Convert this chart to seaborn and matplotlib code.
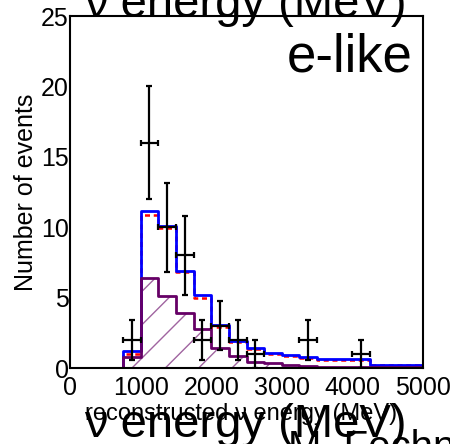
import numpy as np
import seaborn as sns
import matplotlib.pyplot as plt
from matplotlib.ticker import MultipleLocator

# reconstructed energy bins (MeV)
bin_edges = [0, 750, 1000, 1250, 1500, 1750, 2000, 2250, 2500, 2750, 3000, 3250, 3500, 4250, 5000]
# MC predictions per bin
mc_total = [0, 1.2, 11.15, 10.1, 6.9, 5.15, 3.05, 1.95, 1.42, 1.05, 0.93, 0.78, 0.65, 0.22]
mc_fit = [0, 1.0, 10.85, 9.95, 6.8, 5.0, 2.92, 1.88, 1.33, 0.97, 0.88, 0.72, 0.6, 0.2]
mc_bkg = [0, 0.8, 6.4, 5.1, 3.93, 2.8, 1.4, 0.87, 0.45, 0.38, 0.21, 0.12, 0.08, 0.05]

# observed events
data_x = [875, 1125, 1375, 1625, 1875, 2125, 2375, 2625, 3375, 4125]
data_n = [2, 16, 10, 8, 2, 3, 2, 1, 2, 1]
data_halfwidth = 125

sns.set_style('white')
plt.rcParams['font.family'] = ['Liberation Sans', 'DejaVu Sans']
plt.rcParams['hatch.linewidth'] = 1.0
# plain black text like the original
for key in ['text.color', 'axes.labelcolor', 'xtick.color', 'ytick.color']:
    plt.rcParams[key] = 'black'

edges = np.array(bin_edges)
centers = (edges[:-1] + edges[1:]) / 2

fig = plt.figure(figsize=(4.5, 4.44), dpi=100)
ax = fig.add_axes([70 / 450, 76 / 444, 353 / 450, 352 / 444])

# red dashed, under the blue one
sns.histplot(x=centers, weights=mc_fit, bins=bin_edges, element='step', fill=False,
             color='#ff0000', linewidth=1.8, linestyle=(0, (2, 1.5)), ax=ax)
sns.histplot(x=centers, weights=mc_total, bins=bin_edges, element='step', fill=False,
             color='#0000ff', linewidth=2.0, ax=ax)
# hatched background
ax.stairs(mc_bkg, bin_edges, fill=True, hatch='/', facecolor='none',
          edgecolor='#a064a0', linewidth=0)
sns.histplot(x=centers, weights=mc_bkg, bins=bin_edges, element='step', fill=False,
             color='#660066', linewidth=2.0, ax=ax)

ax.errorbar(data_x, data_n, xerr=data_halfwidth, yerr=np.sqrt(data_n), fmt='none',
            ecolor='black', elinewidth=1.6, capsize=2, capthick=1.6, zorder=5)

ax.set_xlim(0, 5000)
ax.set_ylim(0, 25)
ax.xaxis.set_major_locator(MultipleLocator(1000))
ax.xaxis.set_minor_locator(MultipleLocator(125))
ax.yaxis.set_major_locator(MultipleLocator(5))
ax.yaxis.set_minor_locator(MultipleLocator(1))
ax.tick_params(axis='both', which='both', direction='in', top=False, right=False,
               labelsize=18, color='black', labelcolor='black', width=1.2)
ax.tick_params(axis='y', which='major', length=12, pad=1)
ax.tick_params(axis='y', which='minor', length=7)
ax.tick_params(axis='x', which='major', length=12, pad=5.4)
ax.tick_params(axis='x', which='minor', length=3.2)
for s in ax.spines.values():
    s.set_linewidth(1.5)
    s.set_color('black')

ax.set_ylabel('Number of events', fontsize=18, color='black')
ax.yaxis.set_label_coords(-0.09, 0.5)
ax.set_xlabel('reconstructed ν energy (MeV)', fontsize=17, color='black')
ax.xaxis.set_label_coords(0.484, -0.10)

ax.text(413 / 353 - 70 / 353, 1 - 56 / 352, 'e-like', transform=ax.transAxes,
        ha='right', va='baseline', fontsize=38, color='black')

# slide text around the plot
fig.text(84 / 450, 1 - 17 / 444, 'ν energy (MeV)', ha='left', va='baseline', fontsize=34, color='black')
fig.text(84 / 450, 1 - 437 / 444, 'ν energy (MeV)', ha='left', va='baseline', fontsize=34, color='black')
fig.text(288 / 450, 1 - 459 / 444, 'M. Fechner', ha='left', va='baseline', fontsize=29, color='black')

fig.savefig('out.png', dpi=100)
